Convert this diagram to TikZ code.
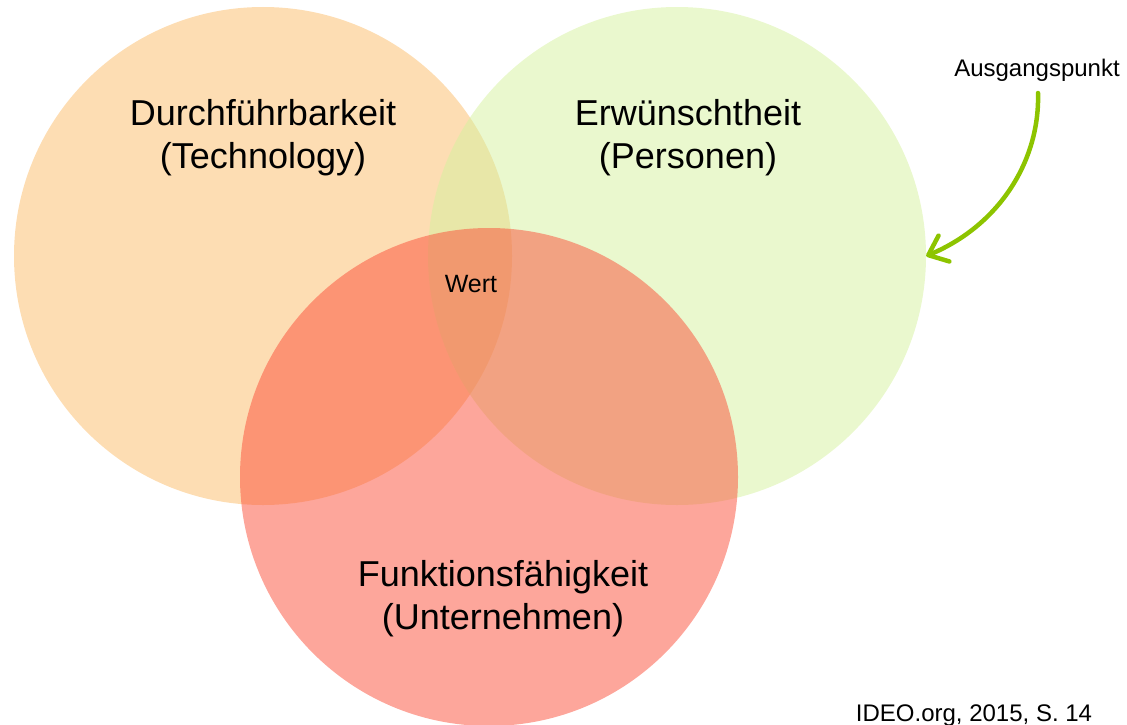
\documentclass[tikz,border=0pt]{standalone}
\usepackage{fontspec}
\setmainfont{Liberation Sans}
\usetikzlibrary{arrows.meta}

\definecolor{techcol}{RGB}{251,187,103}
\definecolor{personcol}{RGB}{213,241,157}
\definecolor{bizcol}{RGB}{251,77,55}
\definecolor{arrowgreen}{RGB}{141,196,0}

\tikzset{
  venn/.style={circle, minimum size=498pt, inner sep=0pt, fill opacity=0.5},
  biglabel/.style={font=\fontsize{36}{43}\selectfont, align=center, anchor=base, inner sep=0pt},
  smalllabel/.style={font=\fontsize{24}{28}\selectfont, anchor=base, inner sep=0pt},
  pointer/.style={draw=arrowgreen, line width=4.5pt, line cap=round,
    -{Straight Barb[length=17pt, width=28pt, round]}}
}

\begin{document}
\begin{tikzpicture}[x=1pt, y=-1pt]
  \useasboundingbox (0,0) rectangle (1127,725);

  % the three overlapping circles
  \node[venn, fill=techcol]   (tech)   at (263,256) {};
  \node[venn, fill=personcol] (people) at (677,256) {};
  \node[venn, fill=bizcol]    (biz)    at (489,477) {};

  % circle captions (anchored at the base line of the second row)
  \node[biglabel] (techlbl)   at (263,168) {Durchführbarkeit\\(Technology)};
  \node[biglabel] (peoplelbl) at (688,168) {Erwünschtheit\\(Personen)};
  \node[biglabel] (bizlbl)    at (503,629) {Funktionsfähigkeit\\(Unternehmen)};

  \node[smalllabel, font=\fontsize{25}{29}\selectfont] (wert) at (471,292) {Wert};
  \node[smalllabel] (start) at (1037,77)   {Ausgangspunkt};
  \node[smalllabel] (src)   at (974,721)   {IDEO.org, 2015, S. 14};

  % curved pointer from the start label to the people circle
  \coordinate (startfoot) at (1038,93);
  \draw[pointer] (startfoot) .. controls (1040,160) and (1000,225) .. (people.east);
\end{tikzpicture}
\end{document}
